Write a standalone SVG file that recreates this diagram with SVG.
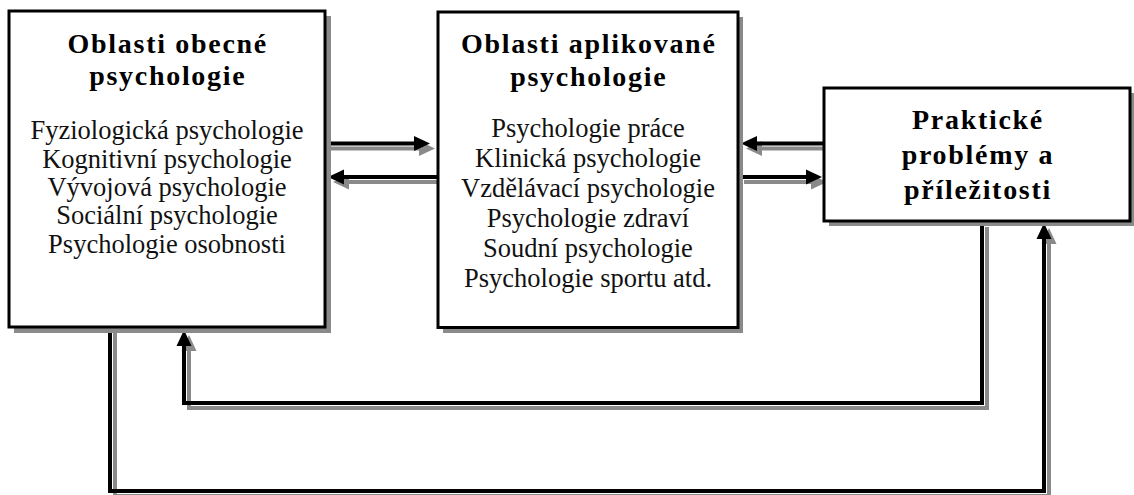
<svg xmlns="http://www.w3.org/2000/svg" width="1134" height="495" viewBox="0 0 1134 495">
<style>
.box{fill:#fff;stroke:#000;stroke-width:3}
.sh{fill:#8a8a8a}
.c{fill:none;stroke:#000;stroke-width:4}
.cs{fill:none;stroke:#8a8a8a;stroke-width:4}
.t{font-family:"Liberation Serif","Times New Roman",serif;font-weight:bold;font-size:28px;letter-spacing:1.7px;text-anchor:middle;fill:#000}
.b{font-family:"Liberation Serif","Times New Roman",serif;font-size:26.5px;text-anchor:middle;fill:#111}
</style>
<defs>
<marker id="ah" markerUnits="userSpaceOnUse" markerWidth="16" markerHeight="15" refX="0" refY="7.5" orient="auto" overflow="visible"><path d="M0,0 L16,7.5 L0,15 z" fill="#000"/></marker>
<marker id="ahs" markerUnits="userSpaceOnUse" markerWidth="16" markerHeight="15" refX="0" refY="7.5" orient="auto" overflow="visible"><path d="M0,0 L16,7.5 L0,15 z" fill="#8a8a8a"/></marker>
</defs>
<rect width="1134" height="495" fill="#fff"/>
<g id="connectors-shadow" transform="translate(5,5)">
<path class="cs" d="M326,143.5 H414" marker-end="url(#ahs)"/>
<path class="cs" d="M437,177 H344" marker-end="url(#ahs)"/>
<path class="cs" d="M823,143.5 H757" marker-end="url(#ahs)"/>
<path class="cs" d="M739,177 H806" marker-end="url(#ahs)"/>
<path class="cs" d="M982,222 V403 H184 V346" marker-end="url(#ahs)"/>
<path class="cs" d="M110,328 V491 H1044 V239" marker-end="url(#ahs)"/>
</g>
<g id="connectors">
<path class="c" d="M326,143.5 H414" marker-end="url(#ah)"/>
<path class="c" d="M437,177 H344" marker-end="url(#ah)"/>
<path class="c" d="M823,143.5 H757" marker-end="url(#ah)"/>
<path class="c" d="M739,177 H806" marker-end="url(#ah)"/>
<path class="c" d="M982,222 V403 H184 V346" marker-end="url(#ah)"/>
<path class="c" d="M110,328 V491 H1044 V239" marker-end="url(#ah)"/>
</g>
<g id="node-obecna">
<rect class="sh" x="14" y="16" width="317" height="317"/>
<rect class="box" x="9" y="11" width="316" height="316"/>
<text class="t" x="167.8" y="53">Oblasti obecné</text>
<text class="t" x="167.8" y="85">psychologie</text>
<text class="b" x="167" y="139.3">Fyziologická psychologie</text>
<text class="b" x="167" y="167.7">Kognitivní psychologie</text>
<text class="b" x="167" y="196">Vývojová psychologie</text>
<text class="b" x="167" y="224.3">Sociální psychologie</text>
<text class="b" x="167" y="252.5">Psychologie osobnosti</text>
</g>
<g id="node-aplikovana">
<rect class="sh" x="443" y="17" width="300" height="316"/>
<rect class="box" x="438" y="12" width="300" height="315.5"/>
<text class="t" x="588.8" y="53">Oblasti aplikované</text>
<text class="t" x="588.8" y="86">psychologie</text>
<text class="b" x="588" y="137.3">Psychologie práce</text>
<text class="b" x="588" y="166.8">Klinická psychologie</text>
<text class="b" x="588" y="196.6">Vzdělávací psychologie</text>
<text class="b" x="588" y="226.5">Psychologie zdraví</text>
<text class="b" x="588" y="256.5">Soudní psychologie</text>
<text class="b" x="588" y="286.5">Psychologie sportu atd.</text>
</g>
<g id="node-prakticke">
<rect class="sh" x="829" y="93" width="306" height="133"/>
<rect class="box" x="824" y="88" width="306" height="133"/>
<text class="t" x="978" y="129">Praktické</text>
<text class="t" x="978" y="164">problémy a</text>
<text class="t" x="978" y="199">příležitosti</text>
</g>
</svg>
